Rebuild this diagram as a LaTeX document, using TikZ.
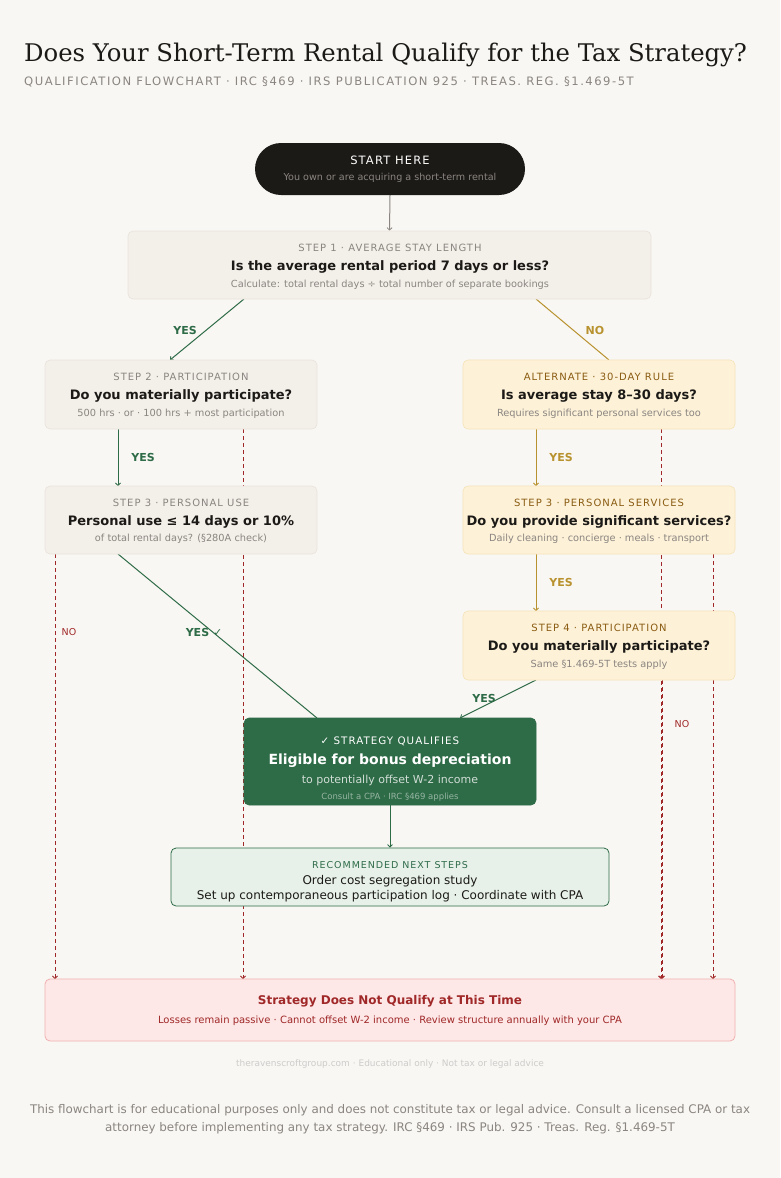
\documentclass[tikz,border=0pt]{standalone}
\usepackage{fontspec}
\setmainfont{DejaVu Sans}
\newfontfamily\serifttl{DejaVu Serif}
\newfontfamily\spc[LetterSpace=10]{DejaVu Sans}
\newfontfamily\spcw[LetterSpace=13]{DejaVu Sans}
\usetikzlibrary{arrows.meta}
\pgfdeclarelayer{bottom}
\pgfdeclarelayer{lines}
\pgfsetlayers{bottom,lines,main}
\definecolor{bg}{HTML}{F9F7F3}
\definecolor{ink}{HTML}{1C1A17}
\definecolor{mute}{HTML}{8A8580}
\definecolor{neut}{HTML}{F3EFE9}
\definecolor{neutb}{HTML}{E8E2DA}
\definecolor{gold}{HTML}{B8922E}
\definecolor{goldt}{HTML}{8A5C12}
\definecolor{goldf}{HTML}{FDF1D8}
\definecolor{goldb}{HTML}{F5E3B8}
\definecolor{grn}{HTML}{2E6B47}
\definecolor{grnf}{HTML}{E7F1EA}
\definecolor{nored}{HTML}{A02828}
\definecolor{redf}{HTML}{FDE8E7}
\definecolor{redb}{HTML}{F0B0B0}
\tikzset{
 box/.style={draw, rounded corners=5pt, line width=0.6pt, inner sep=0pt},
 neutral/.style={box, fill=neut, draw=neutb},
 alt/.style={box, fill=goldf, draw=goldb},
 t/.style={inner sep=0pt, anchor=center},
 lab/.style={t, font=\spc\fontsize{10}{12}\selectfont},
 q/.style={t, font=\bfseries\fontsize{13}{15}\selectfont, text=ink},
 sub/.style={t, font=\fontsize{9.8}{11}\selectfont, text=mute},
 tip/.style={-{Straight Barb[length=2.5pt,width=5pt,line width=0.8pt]}},
 yesg/.style={tip, draw=grn, line width=1pt},
 yesy/.style={tip, draw=gold, line width=1pt},
 nod/.style={tip, draw=nored, line width=0.8pt, dash pattern=on 4pt off 3pt},
 yl/.style={t, font=\bfseries\fontsize{11}{13}\selectfont},
}
\begin{document}
\begin{tikzpicture}[x=1pt,y=-1pt]
\begin{pgfonlayer}{bottom}
\fill[bg] (0,0) rectangle (780,1178);
\end{pgfonlayer}
\useasboundingbox (0,0) rectangle (780,1178);
\node[t,anchor=west,font=\serifttl\fontsize{24.3}{27}\selectfont,text=ink] (title) at (24,55) {Does Your Short-Term Rental Qualify for the Tax Strategy?};
\node[t,anchor=west,font=\spcw\fontsize{11.6}{13}\selectfont,text=mute] (subt) at (24,82) {QUALIFICATION FLOWCHART · IRC §469 · IRS PUBLICATION 925 · TREAS. REG. §1.469-5T};
% start
\node[fill=ink, rounded corners=26pt, minimum width=270pt, minimum height=52pt, inner sep=0pt] (start) at (390,169) {};
\node[t,font=\spc\fontsize{11.5}{13}\selectfont,text=white] (st1) at (390,160) {START HERE};
\node[t,font=\fontsize{9.6}{11}\selectfont,text=mute] (st2) at (390,178) {You own or are acquiring a short-term rental};
% step1
\node[neutral, minimum width=523pt, minimum height=68pt] (s1) at (389.5,265) {};
\node[lab,text=mute] (s1a) at (390,248) {STEP 1 · AVERAGE STAY LENGTH};
\node[q] (s1b) at (390,267) {Is the average rental period 7 days or less?};
\node[sub] (s1c) at (390,285) {Calculate: total rental days ÷ total number of separate bookings};
% step2
\node[neutral, minimum width=272pt, minimum height=69pt] (s2) at (181,394.5) {};
\node[lab,text=mute] (s2a) at (181,377) {STEP 2 · PARTICIPATION};
\node[q] (s2b) at (181,396) {Do you materially participate?};
\node[sub] (s2c) at (181,414) {500 hrs · or · 100 hrs + most participation};
% alt
\node[alt, minimum width=272pt, minimum height=69pt] (a1) at (599,394.5) {};
\node[lab,text=goldt] (a1a) at (599,377) {ALTERNATE · 30-DAY RULE};
\node[q] (a1b) at (599,396) {Is average stay 8–30 days?};
\node[sub] (a1c) at (599,414) {Requires significant personal services too};
% step3 left
\node[neutral, minimum width=272pt, minimum height=68pt] (s3) at (181,520) {};
\node[lab,text=mute] (s3a) at (181,503) {STEP 3 · PERSONAL USE};
\node[q] (s3b) at (181,522) {Personal use ≤ 14 days or 10\%};
\node[sub] (s3c) at (181,539) {of total rental days? (§280A check)};
% step3 right
\node[alt, minimum width=272pt, minimum height=68pt] (r3) at (599,520) {};
\node[lab,text=goldt] (r3a) at (599,503) {STEP 3 · PERSONAL SERVICES};
\node[q] (r3b) at (599,522) {Do you provide significant services?};
\node[sub] (r3c) at (599,539) {Daily cleaning · concierge · meals · transport};
% step4
\node[alt, minimum width=272pt, minimum height=69pt] (r4) at (599,645.5) {};
\node[lab,text=goldt] (r4a) at (599,628) {STEP 4 · PARTICIPATION};
\node[q] (r4b) at (599,647) {Do you materially participate?};
\node[sub] (r4c) at (599,665) {Same §1.469-5T tests apply};
% qualify
\node[box, fill=grn, draw=grn, minimum width=292pt, minimum height=87pt] (ok) at (390,761.5) {};
\node[t,font=\spc\fontsize{10.3}{12}\selectfont,text=white] (ok1) at (390,741) {✓ STRATEGY QUALIFIES};
\node[t,font=\bfseries\fontsize{14}{16}\selectfont,text=white] (ok2) at (390,761) {Eligible for bonus depreciation};
\node[t,font=\fontsize{11}{13}\selectfont,text=white!78!grn] (ok3) at (390,780) {to potentially offset W-2 income};
\node[t,font=\fontsize{8.5}{10}\selectfont,text=white!50!grn] (ok4) at (390,797) {Consult a CPA · IRC §469 applies};
% next steps
\node[box, fill=grnf, draw=grn, line width=0.8pt, minimum width=438pt, minimum height=58pt] (nx) at (390,877) {};
\node[t,font=\spc\fontsize{9.5}{11}\selectfont,text=grn] (nx1) at (390,865) {RECOMMENDED NEXT STEPS};
\node[t,font=\fontsize{12}{14}\selectfont,text=ink] (nx2) at (390,881) {Order cost segregation study};
\node[t,font=\fontsize{12}{14}\selectfont,text=ink] (nx3) at (390,896) {Set up contemporaneous participation log · Coordinate with CPA};
% not qualify
\node[box, fill=redf, draw=redb, line width=0.8pt, minimum width=690pt, minimum height=62pt] (no) at (390,1010) {};
\node[t,font=\bfseries\fontsize{12}{14}\selectfont,text=nored] (no1) at (390,1001) {Strategy Does Not Qualify at This Time};
\node[t,font=\fontsize{10}{12}\selectfont,text=nored] (no2) at (390,1021) {Losses remain passive · Cannot offset W-2 income · Review structure annually with your CPA};
% footer
\node[t,font=\fontsize{9}{11}\selectfont,text=black!20] (ft) at (390,1064) {theravenscroftgroup.com · Educational only · Not tax or legal advice};
\node[t,font=\fontsize{11.9}{14}\selectfont,text=mute] (d1) at (390,1110) {This flowchart is for educational purposes only and does not constitute tax or legal advice. Consult a licensed CPA or tax};
\node[t,font=\fontsize{11.9}{14}\selectfont,text=mute] (d2) at (390,1128) {attorney before implementing any tax strategy. IRC §469 · IRS Pub. 925 · Treas. Reg. §1.469-5T};
% connectors
\begin{pgfonlayer}{lines}
\draw[tip, draw=mute, line width=1pt] (start.south) -- (s1.north);
\coordinate (c1) at (244,299); \coordinate (c2) at (170,360);
\draw[yesg] (c1) -- (c2);
\coordinate (c3) at (536,299); \coordinate (c4) at (609,360);
\draw[draw=gold, line width=1pt] (c3) -- (c4);
\coordinate (c5) at (118,429); \coordinate (c6) at (118,486);
\draw[yesg] (c5) -- (c6);
\coordinate (c7) at (536,429); \coordinate (c8) at (536,486);
\draw[yesy] (c7) -- (c8);
\coordinate (c9) at (536,554); \coordinate (c10) at (536,611);
\draw[yesy] (c9) -- (c10);
\coordinate (c11) at (118,554); \coordinate (c12) at (317,718);
\draw[draw=grn, line width=1pt] (c11) -- (c12);
\coordinate (c13) at (536,680); \coordinate (c14) at (460,718);
\draw[yesg] (c13) -- (c14);
\draw[tip, draw=grn, line width=1pt] (ok.south) -- (nx.north);
\coordinate (d1a) at (55,554); \coordinate (d1b) at (55,979);
\coordinate (d2a) at (243,429); \coordinate (d2b) at (243,979);
\coordinate (d3a) at (661,429); \coordinate (d3b) at (661,979);
\coordinate (d4a) at (713,554); \coordinate (d4b) at (713,979);
\coordinate (d5a) at (662,680); \coordinate (d5b) at (662,979);
\draw[nod] (d1a) -- (d1b);
\draw[nod] (d2a) -- (d2b);
\draw[nod] (d3a) -- (d3b);
\draw[nod] (d4a) -- (d4b);
\draw[nod] (d5a) -- (d5b);
\end{pgfonlayer}
\node[yl,text=grn] (y1) at (185,330) {YES};
\node[yl,text=gold] (n1) at (595,330) {NO};
\node[yl,text=grn] (y2) at (143,457) {YES};
\node[yl,text=gold] (y3) at (561,457) {YES};
\node[yl,text=gold] (y4) at (561,582) {YES};
\node[yl,text=grn] (y5) at (204,632) {YES ✓};
\node[yl,text=grn] (y6) at (484,698) {YES};
\node[t,font=\fontsize{9.5}{11}\selectfont,text=nored] (nl1) at (69,632) {NO};
\node[t,font=\fontsize{9.5}{11}\selectfont,text=nored] (nl2) at (682,724) {NO};
\end{tikzpicture}
\end{document}
